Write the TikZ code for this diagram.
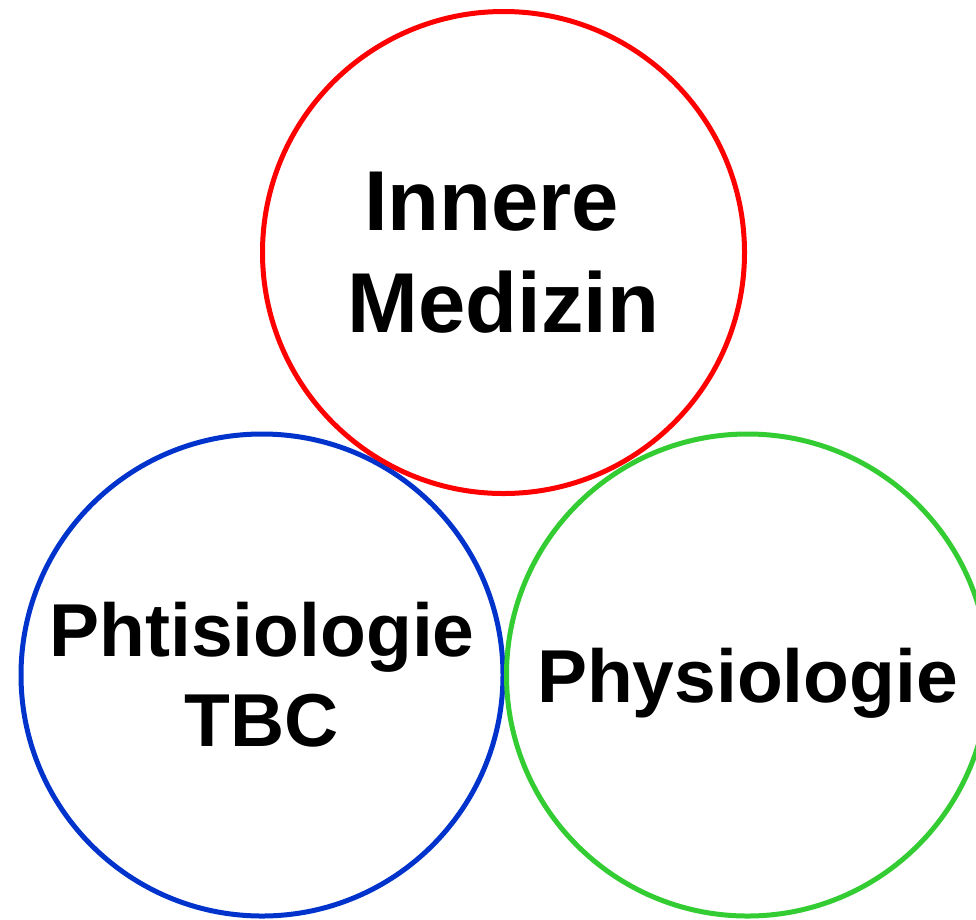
\documentclass[tikz,border=0pt]{standalone}
\usepackage{fontspec}
\setmainfont{Liberation Sans}
\usepackage{tikz}
\definecolor{ringred}{HTML}{FF0000}
\definecolor{ringblue}{HTML}{0033CC}
\definecolor{ringgreen}{HTML}{33CC33}
\tikzset{
  ring/.style={circle, draw=#1, line width=5pt, minimum size=482pt, inner sep=0pt, align=center},
  big/.style={font=\bfseries\fontsize{85}{102}\selectfont},
  small/.style={font=\bfseries\fontsize{75}{90}\selectfont}
}
\begin{document}
\begin{tikzpicture}[x=1pt,y=-1pt]
\useasboundingbox (0,0) rectangle (976,919);
% lower pair
\node[ring=ringblue, small] (phtisio) at (262,675) {Phtisiologie\\TBC};
\node[ring=ringgreen, small, text depth=0pt] (physio) at (747.5,675) {Physiologie};
% top
\node[ring=ringred, big] (innere) at (503.5,252.5) {Innere\kern.28em\\Medizin};
\end{tikzpicture}
\end{document}
